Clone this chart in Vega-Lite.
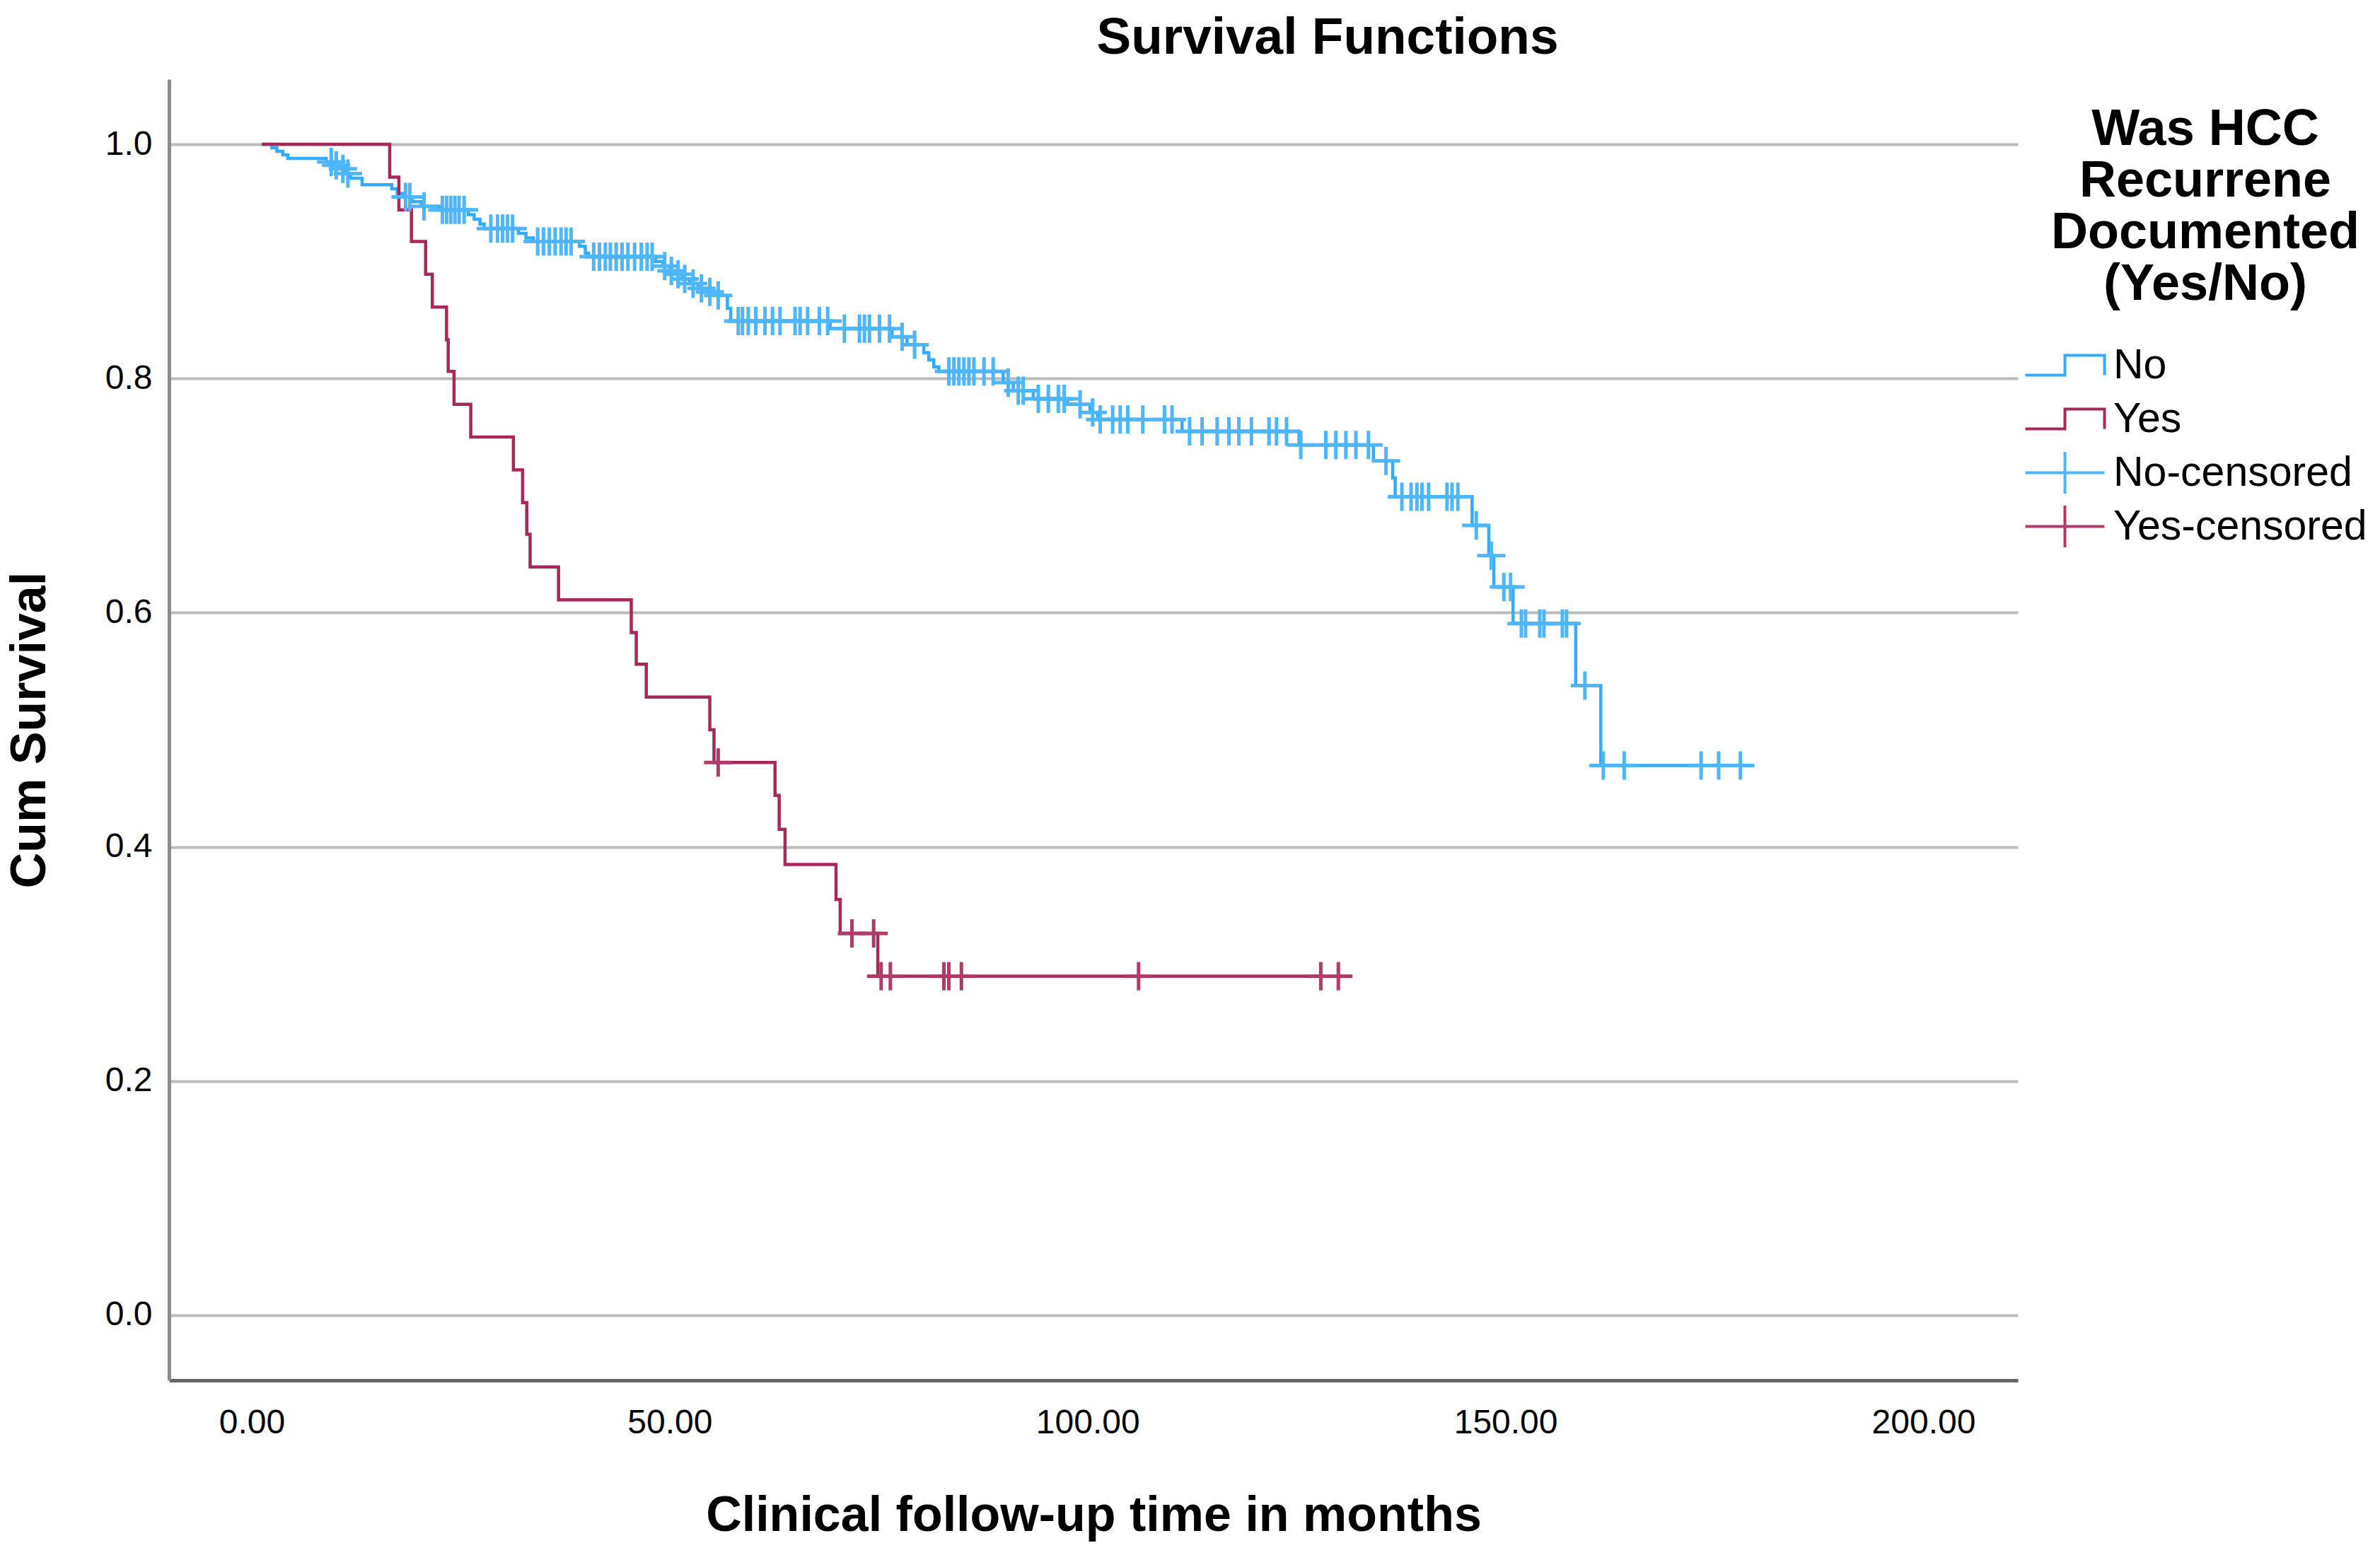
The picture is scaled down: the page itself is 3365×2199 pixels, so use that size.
{
  "$schema": "https://vega.github.io/schema/vega-lite/v6.json",
  "width": 2614,
  "height": 1840,
  "autosize": {"type": "none"},
  "padding": {"left": 239, "top": 112, "right": 512, "bottom": 247},
  "background": "white",
  "config": {"view": {"stroke": null}, "font": "Liberation Sans"},
  "title": {"text": "Survival Functions", "fontSize": 73, "fontWeight": "bold", "anchor": "middle", "frame": "group", "dx": 331, "offset": 21, "color": "#000000", "font": "Liberation Sans"},
  "encoding": {
    "x": {"field": "t", "type": "quantitative",
      "scale": {"domain": [-9.9, 211.3], "nice": false, "zero": false},
      "axis": {"title": "Clinical follow-up time in months", "values": [0, 50, 100, 150, 200], "format": ".2f", "grid": false, "ticks": false,
        "domainColor": "#666666", "domainWidth": 5, "labelFontSize": 48, "labelColor": "#000000", "labelPadding": 36,
        "titleFontSize": 70, "titleFontWeight": "bold", "titlePadding": 73, "titleColor": "#000000", "labelFont": "Liberation Sans", "titleFont": "Liberation Sans"}},
    "y": {"field": "S", "type": "quantitative",
      "scale": {"domain": [-0.0556, 1.0556], "nice": false, "zero": false},
      "axis": {"title": "Cum Survival", "values": [0, 0.2, 0.4, 0.6, 0.8, 1.0], "format": ".1f", "grid": true, "gridColor": "#BBBBBB", "gridWidth": 4, "ticks": false,
        "domainColor": "#8C8C8C", "domainWidth": 5, "labelFontSize": 48, "labelColor": "#000000", "labelPadding": 24,
        "titleFontSize": 70, "titleFontWeight": "bold", "titlePadding": 70, "titleColor": "#000000", "labelFont": "Liberation Sans", "titleFont": "Liberation Sans"}},
    "color": {"field": "series", "type": "nominal",
      "scale": {"domain": ["No", "Yes", "No-censored", "Yes-censored"], "range": ["#33ABFF", "#A8285C", "#4DB6FF", "#B03A6A"]},
      "legend": {"orient": "none", "legendX": 2651, "legendY": 36,
        "title": ["Was HCC", "Recurrene", "Documented", "(Yes/No)"],
        "titleFontSize": 72, "titleFontWeight": "bold", "titleLineHeight": 73, "titleAnchor": "middle", "titleAlign": "center", "titlePadding": 48, "titleLimit": 2000, "titleColor": "#000000", "titleFont": "Liberation Sans",
        "labelFontSize": 59, "labelColor": "#000000", "labelLimit": 2000, "labelOffset": 39, "labelFont": "Liberation Sans",
        "symbolSize": 784, "symbolStrokeWidth": 4, "rowPadding": 1,
        "encode": {"symbols": {"update": {
          "shape": {"signal": "indexof(datum.value, 'censored') > 0 ? 'M-4,0H4M0,-2.1V2.1' : 'M0,-2.1M0,2.1M-4,1H0V-1H4V1'"},
          "fill": {"value": "transparent"},
          "stroke": {"scale": "color", "field": "value"},
          "strokeWidth": {"value": 4},
          "opacity": {"value": 1}}}}}}
  },
  "layer": [
    {
      "data": {"values": [
        {"series": "No", "t": 1.2, "S": 1.0},
        {"series": "No", "t": 2.4, "S": 0.997},
        {"series": "No", "t": 3.0, "S": 0.994},
        {"series": "No", "t": 3.7, "S": 0.991},
        {"series": "No", "t": 4.3, "S": 0.988},
        {"series": "No", "t": 8.9, "S": 0.985},
        {"series": "No", "t": 9.8, "S": 0.982},
        {"series": "No", "t": 10.5, "S": 0.979},
        {"series": "No", "t": 11.2, "S": 0.975},
        {"series": "No", "t": 11.8, "S": 0.971},
        {"series": "No", "t": 13.2, "S": 0.9655},
        {"series": "No", "t": 16.75, "S": 0.962},
        {"series": "No", "t": 17.4, "S": 0.958},
        {"series": "No", "t": 18.1, "S": 0.955},
        {"series": "No", "t": 19.2, "S": 0.951},
        {"series": "No", "t": 20.3, "S": 0.947},
        {"series": "No", "t": 22.4, "S": 0.944},
        {"series": "No", "t": 25.9, "S": 0.94},
        {"series": "No", "t": 26.6, "S": 0.936},
        {"series": "No", "t": 27.3, "S": 0.932},
        {"series": "No", "t": 27.8, "S": 0.928},
        {"series": "No", "t": 31.9, "S": 0.924},
        {"series": "No", "t": 32.8, "S": 0.92},
        {"series": "No", "t": 33.7, "S": 0.917},
        {"series": "No", "t": 39.2, "S": 0.913},
        {"series": "No", "t": 39.9, "S": 0.907},
        {"series": "No", "t": 40.3, "S": 0.904},
        {"series": "No", "t": 48.3, "S": 0.9},
        {"series": "No", "t": 49.2, "S": 0.896},
        {"series": "No", "t": 50.0, "S": 0.892},
        {"series": "No", "t": 50.8, "S": 0.889},
        {"series": "No", "t": 51.5, "S": 0.885},
        {"series": "No", "t": 52.4, "S": 0.881},
        {"series": "No", "t": 53.4, "S": 0.877},
        {"series": "No", "t": 54.5, "S": 0.874},
        {"series": "No", "t": 55.6, "S": 0.871},
        {"series": "No", "t": 56.9, "S": 0.86},
        {"series": "No", "t": 57.3, "S": 0.849},
        {"series": "No", "t": 69.2, "S": 0.8426},
        {"series": "No", "t": 76.6, "S": 0.8357},
        {"series": "No", "t": 78.4, "S": 0.8288},
        {"series": "No", "t": 80.4, "S": 0.822},
        {"series": "No", "t": 81.0, "S": 0.816},
        {"series": "No", "t": 81.6, "S": 0.81},
        {"series": "No", "t": 82.2, "S": 0.806},
        {"series": "No", "t": 89.9, "S": 0.7965},
        {"series": "No", "t": 91.1, "S": 0.7896},
        {"series": "No", "t": 93.5, "S": 0.7826},
        {"series": "No", "t": 97.6, "S": 0.778},
        {"series": "No", "t": 100.3, "S": 0.771},
        {"series": "No", "t": 101.2, "S": 0.765},
        {"series": "No", "t": 111.3, "S": 0.7548},
        {"series": "No", "t": 125.3, "S": 0.7433},
        {"series": "No", "t": 134.2, "S": 0.7296},
        {"series": "No", "t": 136.5, "S": 0.715},
        {"series": "No", "t": 136.8, "S": 0.699},
        {"series": "No", "t": 146.0, "S": 0.6745},
        {"series": "No", "t": 148.0, "S": 0.6487},
        {"series": "No", "t": 148.6, "S": 0.622},
        {"series": "No", "t": 150.9, "S": 0.5908},
        {"series": "No", "t": 158.4, "S": 0.5377},
        {"series": "No", "t": 161.4, "S": 0.4695},
        {"series": "No", "t": 178.1, "S": 0.4695},
        {"series": "Yes", "t": 1.2, "S": 1.0},
        {"series": "Yes", "t": 16.5, "S": 0.972},
        {"series": "Yes", "t": 17.6, "S": 0.944},
        {"series": "Yes", "t": 19.1, "S": 0.917},
        {"series": "Yes", "t": 20.8, "S": 0.889},
        {"series": "Yes", "t": 21.6, "S": 0.861},
        {"series": "Yes", "t": 23.3, "S": 0.833},
        {"series": "Yes", "t": 23.5, "S": 0.806},
        {"series": "Yes", "t": 24.2, "S": 0.778},
        {"series": "Yes", "t": 26.2, "S": 0.75},
        {"series": "Yes", "t": 31.3, "S": 0.722},
        {"series": "Yes", "t": 32.4, "S": 0.694},
        {"series": "Yes", "t": 32.9, "S": 0.667},
        {"series": "Yes", "t": 33.3, "S": 0.639},
        {"series": "Yes", "t": 36.7, "S": 0.611},
        {"series": "Yes", "t": 45.4, "S": 0.583},
        {"series": "Yes", "t": 46.0, "S": 0.556},
        {"series": "Yes", "t": 47.2, "S": 0.528},
        {"series": "Yes", "t": 54.8, "S": 0.5},
        {"series": "Yes", "t": 55.3, "S": 0.472},
        {"series": "Yes", "t": 62.6, "S": 0.444},
        {"series": "Yes", "t": 63.1, "S": 0.415},
        {"series": "Yes", "t": 63.8, "S": 0.385},
        {"series": "Yes", "t": 69.9, "S": 0.355},
        {"series": "Yes", "t": 70.4, "S": 0.326},
        {"series": "Yes", "t": 74.9, "S": 0.2895},
        {"series": "Yes", "t": 130.0, "S": 0.2895}
      ]},
      "mark": {"type": "line", "interpolate": "step-after", "strokeWidth": 4.5}
    },
    {
      "data": {"values": [
        {"series": "No-censored", "t": 9.5, "S": 0.985},
        {"series": "No-censored", "t": 10.1, "S": 0.982},
        {"series": "No-censored", "t": 10.9, "S": 0.979},
        {"series": "No-censored", "t": 11.5, "S": 0.975},
        {"series": "No-censored", "t": 18.4, "S": 0.955},
        {"series": "No-censored", "t": 18.9, "S": 0.955},
        {"series": "No-censored", "t": 20.6, "S": 0.947},
        {"series": "No-censored", "t": 22.8, "S": 0.944},
        {"series": "No-censored", "t": 23.3, "S": 0.944},
        {"series": "No-censored", "t": 23.8, "S": 0.944},
        {"series": "No-censored", "t": 24.3, "S": 0.944},
        {"series": "No-censored", "t": 24.8, "S": 0.944},
        {"series": "No-censored", "t": 25.4, "S": 0.944},
        {"series": "No-censored", "t": 28.6, "S": 0.928},
        {"series": "No-censored", "t": 29.4, "S": 0.928},
        {"series": "No-censored", "t": 30.0, "S": 0.928},
        {"series": "No-censored", "t": 30.6, "S": 0.928},
        {"series": "No-censored", "t": 31.2, "S": 0.928},
        {"series": "No-censored", "t": 34.2, "S": 0.917},
        {"series": "No-censored", "t": 34.9, "S": 0.917},
        {"series": "No-censored", "t": 35.6, "S": 0.917},
        {"series": "No-censored", "t": 36.3, "S": 0.917},
        {"series": "No-censored", "t": 37.0, "S": 0.917},
        {"series": "No-censored", "t": 37.6, "S": 0.917},
        {"series": "No-censored", "t": 38.2, "S": 0.917},
        {"series": "No-censored", "t": 40.9, "S": 0.904},
        {"series": "No-censored", "t": 41.6, "S": 0.904},
        {"series": "No-censored", "t": 42.3, "S": 0.904},
        {"series": "No-censored", "t": 42.9, "S": 0.904},
        {"series": "No-censored", "t": 43.6, "S": 0.904},
        {"series": "No-censored", "t": 44.3, "S": 0.904},
        {"series": "No-censored", "t": 45.0, "S": 0.904},
        {"series": "No-censored", "t": 45.8, "S": 0.904},
        {"series": "No-censored", "t": 46.6, "S": 0.904},
        {"series": "No-censored", "t": 47.3, "S": 0.904},
        {"series": "No-censored", "t": 47.9, "S": 0.904},
        {"series": "No-censored", "t": 49.4, "S": 0.896},
        {"series": "No-censored", "t": 50.2, "S": 0.892},
        {"series": "No-censored", "t": 51.0, "S": 0.889},
        {"series": "No-censored", "t": 51.8, "S": 0.885},
        {"series": "No-censored", "t": 52.8, "S": 0.881},
        {"series": "No-censored", "t": 53.8, "S": 0.877},
        {"series": "No-censored", "t": 54.8, "S": 0.874},
        {"series": "No-censored", "t": 55.8, "S": 0.871},
        {"series": "No-censored", "t": 58.2, "S": 0.849},
        {"series": "No-censored", "t": 58.7, "S": 0.849},
        {"series": "No-censored", "t": 59.4, "S": 0.849},
        {"series": "No-censored", "t": 60.3, "S": 0.849},
        {"series": "No-censored", "t": 61.4, "S": 0.849},
        {"series": "No-censored", "t": 62.3, "S": 0.849},
        {"series": "No-censored", "t": 63.2, "S": 0.849},
        {"series": "No-censored", "t": 65.0, "S": 0.849},
        {"series": "No-censored", "t": 65.6, "S": 0.849},
        {"series": "No-censored", "t": 66.5, "S": 0.849},
        {"series": "No-censored", "t": 67.9, "S": 0.849},
        {"series": "No-censored", "t": 68.9, "S": 0.849},
        {"series": "No-censored", "t": 70.9, "S": 0.8426},
        {"series": "No-censored", "t": 72.7, "S": 0.8426},
        {"series": "No-censored", "t": 73.3, "S": 0.8426},
        {"series": "No-censored", "t": 73.9, "S": 0.8426},
        {"series": "No-censored", "t": 75.1, "S": 0.8426},
        {"series": "No-censored", "t": 76.3, "S": 0.8426},
        {"series": "No-censored", "t": 77.8, "S": 0.8357},
        {"series": "No-censored", "t": 79.3, "S": 0.8288},
        {"series": "No-censored", "t": 83.4, "S": 0.806},
        {"series": "No-censored", "t": 84.0, "S": 0.806},
        {"series": "No-censored", "t": 84.6, "S": 0.806},
        {"series": "No-censored", "t": 85.2, "S": 0.806},
        {"series": "No-censored", "t": 85.8, "S": 0.806},
        {"series": "No-censored", "t": 86.4, "S": 0.806},
        {"series": "No-censored", "t": 87.6, "S": 0.806},
        {"series": "No-censored", "t": 88.7, "S": 0.806},
        {"series": "No-censored", "t": 90.5, "S": 0.7965},
        {"series": "No-censored", "t": 91.7, "S": 0.7896},
        {"series": "No-censored", "t": 92.3, "S": 0.7896},
        {"series": "No-censored", "t": 94.1, "S": 0.7826},
        {"series": "No-censored", "t": 95.3, "S": 0.7826},
        {"series": "No-censored", "t": 96.5, "S": 0.7826},
        {"series": "No-censored", "t": 97.2, "S": 0.7826},
        {"series": "No-censored", "t": 99.1, "S": 0.778},
        {"series": "No-censored", "t": 100.6, "S": 0.771},
        {"series": "No-censored", "t": 101.5, "S": 0.765},
        {"series": "No-censored", "t": 103.0, "S": 0.765},
        {"series": "No-censored", "t": 103.9, "S": 0.765},
        {"series": "No-censored", "t": 104.8, "S": 0.765},
        {"series": "No-censored", "t": 106.6, "S": 0.765},
        {"series": "No-censored", "t": 109.2, "S": 0.765},
        {"series": "No-censored", "t": 110.1, "S": 0.765},
        {"series": "No-censored", "t": 112.2, "S": 0.7548},
        {"series": "No-censored", "t": 113.7, "S": 0.7548},
        {"series": "No-censored", "t": 115.5, "S": 0.7548},
        {"series": "No-censored", "t": 116.9, "S": 0.7548},
        {"series": "No-censored", "t": 118.1, "S": 0.7548},
        {"series": "No-censored", "t": 119.6, "S": 0.7548},
        {"series": "No-censored", "t": 121.7, "S": 0.7548},
        {"series": "No-censored", "t": 122.6, "S": 0.7548},
        {"series": "No-censored", "t": 123.8, "S": 0.7548},
        {"series": "No-censored", "t": 125.5, "S": 0.7433},
        {"series": "No-censored", "t": 128.5, "S": 0.7433},
        {"series": "No-censored", "t": 129.7, "S": 0.7433},
        {"series": "No-censored", "t": 130.9, "S": 0.7433},
        {"series": "No-censored", "t": 132.1, "S": 0.7433},
        {"series": "No-censored", "t": 133.6, "S": 0.7433},
        {"series": "No-censored", "t": 135.7, "S": 0.7296},
        {"series": "No-censored", "t": 137.6, "S": 0.699},
        {"series": "No-censored", "t": 138.7, "S": 0.699},
        {"series": "No-censored", "t": 139.4, "S": 0.699},
        {"series": "No-censored", "t": 140.0, "S": 0.699},
        {"series": "No-censored", "t": 140.8, "S": 0.699},
        {"series": "No-censored", "t": 143.0, "S": 0.699},
        {"series": "No-censored", "t": 143.6, "S": 0.699},
        {"series": "No-censored", "t": 144.3, "S": 0.699},
        {"series": "No-censored", "t": 146.5, "S": 0.6745},
        {"series": "No-censored", "t": 148.3, "S": 0.6487},
        {"series": "No-censored", "t": 149.8, "S": 0.622},
        {"series": "No-censored", "t": 150.6, "S": 0.622},
        {"series": "No-censored", "t": 151.9, "S": 0.5908},
        {"series": "No-censored", "t": 152.4, "S": 0.5908},
        {"series": "No-censored", "t": 154.1, "S": 0.5908},
        {"series": "No-censored", "t": 154.6, "S": 0.5908},
        {"series": "No-censored", "t": 156.8, "S": 0.5908},
        {"series": "No-censored", "t": 157.3, "S": 0.5908},
        {"series": "No-censored", "t": 159.5, "S": 0.5377},
        {"series": "No-censored", "t": 161.7, "S": 0.4695},
        {"series": "No-censored", "t": 164.2, "S": 0.4695},
        {"series": "No-censored", "t": 173.4, "S": 0.4695},
        {"series": "No-censored", "t": 175.5, "S": 0.4695},
        {"series": "No-censored", "t": 178.1, "S": 0.4695},
        {"series": "Yes-censored", "t": 55.8, "S": 0.472},
        {"series": "Yes-censored", "t": 71.8, "S": 0.326},
        {"series": "Yes-censored", "t": 74.4, "S": 0.326},
        {"series": "Yes-censored", "t": 75.3, "S": 0.2895},
        {"series": "Yes-censored", "t": 76.4, "S": 0.2895},
        {"series": "Yes-censored", "t": 82.8, "S": 0.2895},
        {"series": "Yes-censored", "t": 83.4, "S": 0.2895},
        {"series": "Yes-censored", "t": 84.9, "S": 0.2895},
        {"series": "Yes-censored", "t": 106.1, "S": 0.2895},
        {"series": "Yes-censored", "t": 127.9, "S": 0.2895},
        {"series": "Yes-censored", "t": 130.0, "S": 0.2895}
      ]},
      "mark": {"type": "point", "shape": "M-1,0H1M0,-1V1", "filled": false, "strokeWidth": 5, "size": 1600, "opacity": 1}
    }
  ]
}
